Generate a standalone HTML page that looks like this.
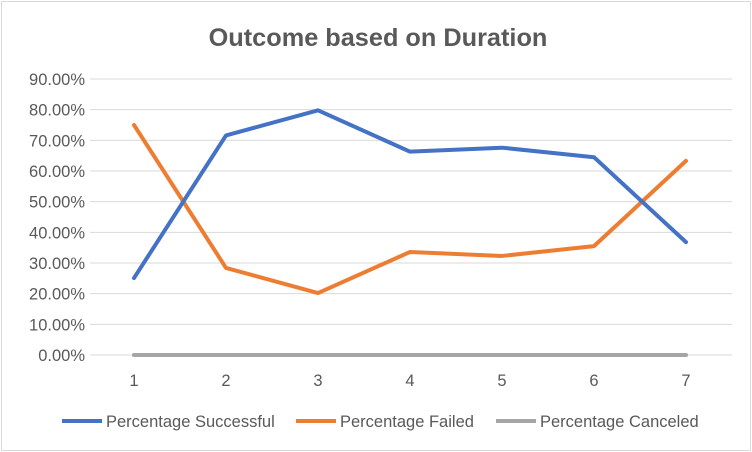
<!DOCTYPE html>
<html><head><meta charset="utf-8"><style>
html,body{margin:0;padding:0;background:#fff;}
svg{display:block;font-family:"Liberation Sans",Calibri,sans-serif;}
</style></head><body>
<svg id="chart" width="752" height="452">
<rect x="1.5" y="1.5" width="749" height="449" fill="#fff" stroke="#d9d9d9"/>
<text x="378" y="46" text-anchor="middle" font-size="25.3" font-weight="bold" fill="#595959">Outcome based on Duration</text>
<g id="grid"></g><g id="series"></g>
<g>
<line x1="62" y1="421" x2="102" y2="421" stroke="#4472c4" stroke-width="4"/>
<text x="106" y="427" font-size="16.5" fill="#595959">Percentage Successful</text>
<line x1="296" y1="421" x2="336" y2="421" stroke="#ed7d31" stroke-width="4"/>
<text x="340" y="427" font-size="16.5" fill="#595959">Percentage Failed</text>
<line x1="496" y1="421" x2="536" y2="421" stroke="#a5a5a5" stroke-width="4"/>
<text x="540" y="427" font-size="16.5" fill="#595959">Percentage Canceled</text>
</g>
</svg>
<script>
const categories=[1,2,3,4,5,6,7];
const successful=[25.1,71.6,79.8,66.3,67.6,64.5,36.8];
const failed=[75.0,28.4,20.2,33.6,32.3,35.5,63.3];
const canceled=[0,0,0,0,0,0,0];
const yTicks=[0,10,20,30,40,50,60,70,80,90];
const NS="http://www.w3.org/2000/svg";
const x=i=>134+i*92;
const y=v=>355-v*(276/90);
const grid=document.getElementById('grid'),ser=document.getElementById('series');
function mk(t,a,p){const e=document.createElementNS(NS,t);for(const k in a)e.setAttribute(k,a[k]);p.appendChild(e);return e;}
yTicks.forEach(v=>{
 const l=mk('line',{x1:90,x2:732,y1:y(v),y2:y(v),stroke:'#d9d9d9','stroke-width':1},grid);
 
 
 const t=mk('text',{x:85,y:y(v)+6,'text-anchor':'end','font-size':16.5,fill:'#595959'},grid);
 t.textContent=v.toFixed(2)+'%';
 
 
});
categories.forEach((c,i)=>{
 const t=mk('text',{x:x(i),y:386,'text-anchor':'middle','font-size':16.5,fill:'#595959'},grid);
 t.textContent=c;
 
 
});
[[canceled,'#a5a5a5','canceled'],[failed,'#ed7d31','failed'],[successful,'#4472c4','successful']].forEach(([d,c,n])=>{
 const p=mk('polyline',{points:d.map((v,i)=>x(i)+','+y(v)).join(' '),fill:'none',stroke:c,'stroke-width':4,'stroke-linejoin':'round','stroke-linecap':'round'},ser);
 
 
});
</script>
</body></html>
